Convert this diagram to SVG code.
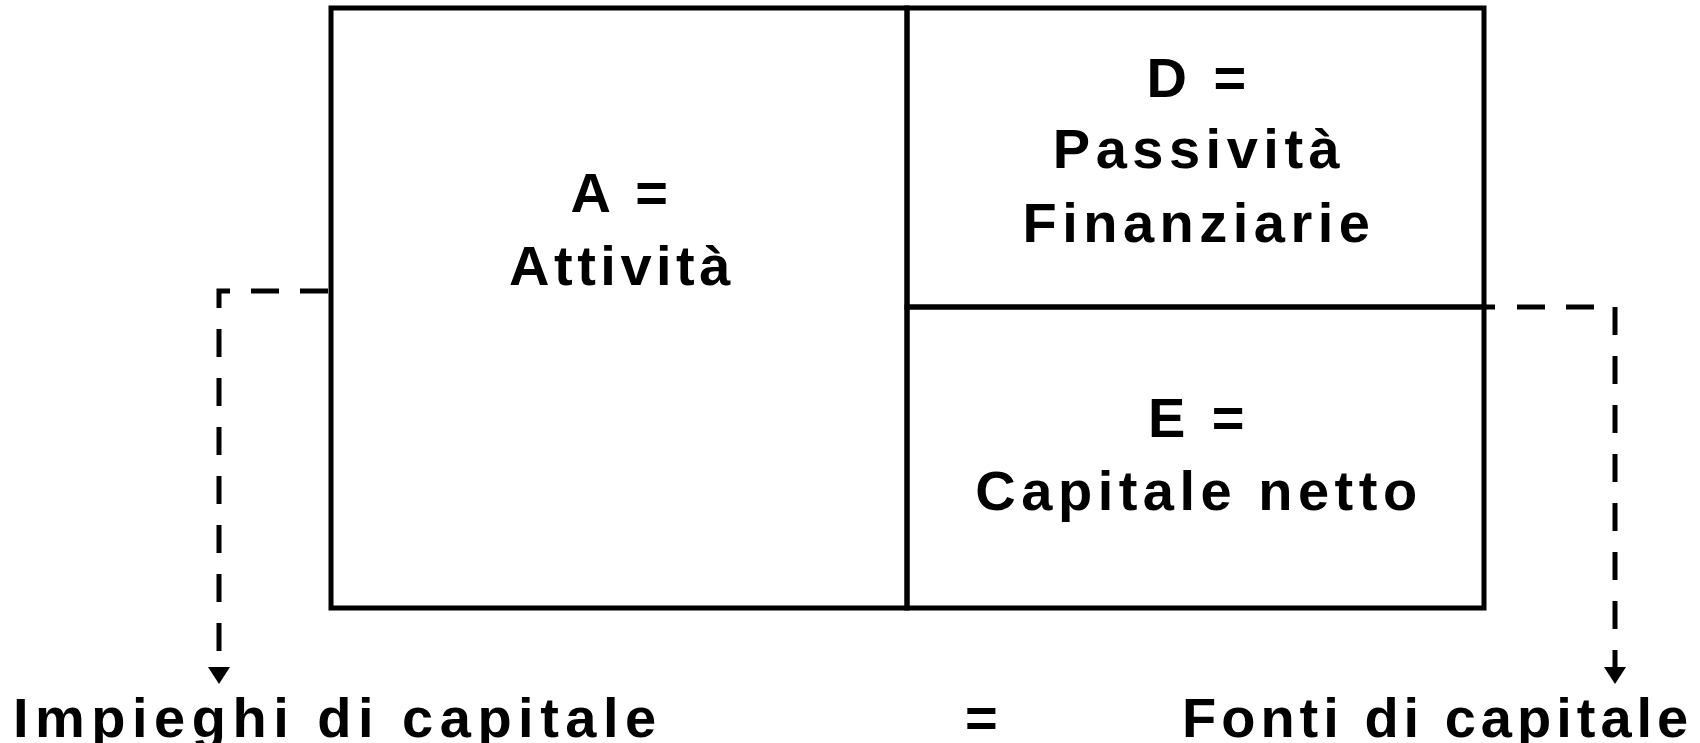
<svg xmlns="http://www.w3.org/2000/svg" width="1700" height="743" viewBox="0 0 1700 743">
<style>
.frame{fill:none;stroke:#000;stroke-width:5}
.dash{fill:none;stroke:#000;stroke-width:5;stroke-dasharray:28 21;marker-end:url(#ah)}
.t{font-family:"Liberation Sans",Arial,sans-serif;font-weight:bold;font-size:56px;letter-spacing:5.5px;fill:#000}
.c{text-anchor:middle}
</style>
<defs>
<marker id="ah" markerUnits="userSpaceOnUse" markerWidth="24" markerHeight="24" viewBox="0 -12 18 24" refX="0" refY="0" orient="auto">
<path d="M0,-11 L17,0 L0,11 Z" fill="#000"/>
</marker>
</defs>
<rect width="1700" height="743" fill="#fff"/>
<g id="node-A">
<rect class="frame" x="331" y="8" width="576" height="600"/>
<text class="t c" x="622" y="212">A =</text>
<text class="t c" x="622" y="285" style="letter-spacing:4.5px">Attività</text>
</g>
<g id="node-D">
<rect class="frame" x="907" y="8" width="577" height="299"/>
<text class="t c" x="1199" y="97">D =</text>
<text class="t c" x="1199" y="168">Passività</text>
<text class="t c" x="1199" y="242">Finanziarie</text>
</g>
<g id="node-E">
<rect class="frame" x="907" y="307" width="577" height="301"/>
<text class="t c" x="1199" y="437">E =</text>
<text class="t c" x="1199" y="510">Capitale netto</text>
</g>
<g id="connectors">
<line class="frame" x1="1484" y1="307" x2="1495" y2="307"/>
<path class="dash" d="M328,291 H219 V667"/>
<path class="dash" d="M1517,307 H1615 V667"/>
</g>
<g id="node-impieghi">
<text class="t" x="13" y="737" style="letter-spacing:6.5px">Impieghi di capitale</text>
</g>
<g id="node-eq">
<text class="t" x="965" y="737">=</text>
</g>
<g id="node-fonti">
<text class="t" x="1182" y="737" style="letter-spacing:5px">Fonti di capitale</text>
</g>
</svg>
